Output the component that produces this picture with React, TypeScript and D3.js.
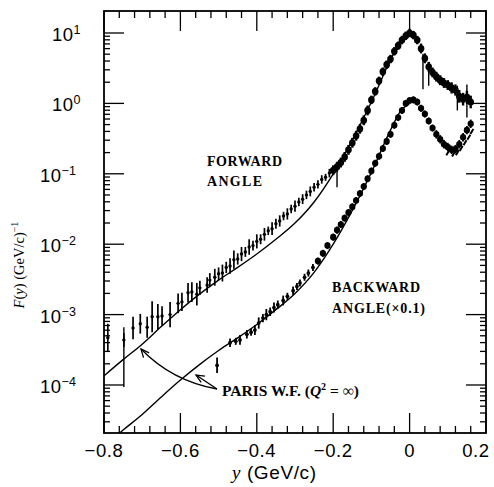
import * as d3 from "d3";

// Paris wave function prediction, log10 F(y) for the forward angle
// (the backward curve is the same one scaled by 0.1)
const parisY = [-0.8, -0.75, -0.7, -0.65, -0.6, -0.55, -0.5, -0.45, -0.4, -0.35, -0.3, -0.25, -0.2, -0.15, -0.1, -0.05, -0.025, 0];
const parisLogF = [-3.87, -3.64, -3.42, -3.17, -2.93, -2.71, -2.51, -2.33, -2.14, -1.93, -1.7, -1.4, -1.0, -0.52, 0.02, 0.62, 0.88, 1.0];

// forward angle data: y, log10 F, error (log units)
const fwdY = [
  -0.79, -0.748, -0.724, -0.705, -0.687, -0.674, -0.659, -0.648, -0.627, -0.606, -0.596, -0.58, -0.57, -0.557, -0.549, -0.53, -0.523,
  -0.51, -0.5, -0.49, -0.48, -0.47, -0.46, -0.45, -0.44, -0.43, -0.42, -0.41, -0.4, -0.39, -0.38, -0.37, -0.36, -0.35, -0.34, -0.33,
  -0.32, -0.31, -0.3, -0.29, -0.28, -0.27, -0.26, -0.25, -0.24, -0.23, -0.22, -0.21,
  -0.2, -0.19, -0.18, -0.17, -0.16, -0.15, -0.14, -0.13, -0.12, -0.11, -0.1, -0.09, -0.08, -0.07, -0.06, -0.05, -0.04, -0.03, -0.02,
  -0.01, 0, 0.01, 0.02, 0.03, 0.04, 0.05, 0.06, 0.07, 0.08, 0.09, 0.1, 0.11, 0.12, 0.13, 0.14, 0.15, 0.16,
];
const fwdLogF = [
  -3.33, -3.36, -3.19, -3.13, -3.18, -3.03, -3.03, -3.02, -3.0, -2.84, -2.82, -2.69, -2.68, -2.71, -2.62, -2.58, -2.51,
  -2.47, -2.42, -2.41, -2.33, -2.31, -2.22, -2.21, -2.14, -2.11, -2.04, -2.02, -1.96, -1.93, -1.86, -1.81, -1.78, -1.71, -1.67, -1.6,
  -1.57, -1.5, -1.46, -1.4, -1.36, -1.3, -1.25, -1.19, -1.15, -1.08, -1.05, -0.99,
  -0.95, -0.9, -0.84, -0.76, -0.66, -0.56, -0.46, -0.36, -0.24, -0.1, 0.05, 0.17, 0.32, 0.45, 0.55, 0.63, 0.74, 0.82, 0.9,
  0.96, 1.0, 0.97, 0.9, 0.78, 0.64, 0.52, 0.44, 0.38, 0.33, 0.29, 0.26, 0.22, 0.19, 0.1, 0.06, 0.09, 0.02,
];
const fwdErr = [
  0.2, 0.1, 0.16, 0.14, 0.15, 0.22, 0.18, 0.14, 0.18, 0.14, 0.13, 0.14, 0.14, 0.16, 0.1, 0.11, 0.1,
  0.12, 0.09, 0.12, 0.08, 0.11, 0.13, 0.08, 0.1, 0.07, 0.11, 0.07, 0.1, 0.07, 0.09, 0.06, 0.09, 0.07, 0.08, 0.06,
  0.08, 0.06, 0.08, 0.06, 0.07, 0.06, 0.07, 0.06, 0.06, 0.06, 0.05, 0.06,
  0.07, 0.07, 0.07, 0.07, 0.07, 0.07, 0.07, 0.07, 0.07, 0.07, 0.06, 0.06, 0.06, 0.06, 0.06, 0.06, 0.06, 0.06, 0.06,
  0.06, 0.06, 0.06, 0.06, 0.07, 0.07, 0.07, 0.07, 0.07, 0.07, 0.07, 0.07, 0.08, 0.08, 0.09, 0.09, 0.09, 0.09,
];
// a few long asymmetric bars (y, low, high in log10 F)
const fwdLongY = [-0.748, -0.19, 0.035, 0.05, 0.125, 0.15];
const fwdLongLo = [-4.03, -1.19, 0.2, 0.25, -0.1, -0.2];
const fwdLongHi = [-3.18, -0.85, 0.7, 0.55, 0.25, 0.27];

// backward angle data (x0.1)
const bwdY = [
  -0.504, -0.47, -0.455, -0.444, -0.426, -0.415, -0.405, -0.395, -0.384, -0.375, -0.365, -0.355, -0.345, -0.331, -0.32, -0.305,
  -0.295, -0.287, -0.275, -0.265, -0.253, -0.24, -0.227, -0.215, -0.2, -0.19, -0.18, -0.17, -0.16, -0.15, -0.14, -0.13, -0.12,
  -0.11, -0.1, -0.09, -0.08, -0.07, -0.06, -0.05, -0.04, -0.03, -0.02, -0.01, 0, 0.01, 0.02, 0.03, 0.04, 0.05, 0.06, 0.07, 0.08,
  0.09, 0.1, 0.11, 0.12, 0.13, 0.14, 0.15, 0.16,
];
const bwdLogF = [
  -3.72, -3.4, -3.38, -3.36, -3.28, -3.25, -3.22, -3.12, -3.05, -3.0, -2.96, -2.9, -2.86, -2.8, -2.74, -2.66,
  -2.6, -2.55, -2.47, -2.41, -2.33, -2.24, -2.13, -2.02, -1.9, -1.8, -1.72, -1.63, -1.55, -1.47, -1.38, -1.28, -1.18,
  -1.07, -0.96, -0.85, -0.75, -0.64, -0.54, -0.44, -0.31, -0.2, -0.1, 0.0, 0.04, 0.05, 0.02, -0.07, -0.15, -0.25, -0.35, -0.44, -0.51,
  -0.58, -0.62, -0.66, -0.65, -0.58, -0.48, -0.38, -0.29,
];
const bwdErr = [
  0.11, 0.06, 0.05, 0.07, 0.06, 0.05, 0.07, 0.08, 0.06, 0.08, 0.06, 0.07, 0.06, 0.07, 0.05, 0.06,
  0.05, 0.05, 0.05, 0.05, 0.05, 0.05, 0.05, 0.05, 0.05, 0.05, 0.05, 0.05, 0.05, 0.05, 0.05, 0.05, 0.05,
  0.05, 0.05, 0.05, 0.05, 0.05, 0.05, 0.05, 0.05, 0.05, 0.05, 0.05, 0.05, 0.05, 0.05, 0.05, 0.05, 0.05, 0.05, 0.06, 0.06,
  0.06, 0.06, 0.06, 0.06, 0.06, 0.06, 0.06, 0.06,
];
// second backward set near the end
const bwd2Y = [0.1, 0.115, 0.125, 0.135, 0.145, 0.155, 0.163];
const bwd2LogF = [-0.7, -0.72, -0.7, -0.64, -0.56, -0.48, -0.4];

const xTicks = [-0.8, -0.6, -0.4, -0.2, 0, 0.2];
const yExps = [1, 0, -1, -2, -3, -4];

const X0 = 104, X1 = 486, Y0 = 11, Y1 = 433;

export default function App() {
  const x = d3.scaleLinear().domain([-0.8, 0.2]).range([X0, X1]);
  const y = d3.scaleLog().domain([Math.pow(10, -4.682), Math.pow(10, 1.3125)]).range([Y1, Y0]);
  const yl = (v: number) => y(Math.pow(10, v));

  const line = d3
    .line<number>()
    .x((_, i) => x(parisY[i]))
    .curve(d3.curveMonotoneX);
  const fwdPath = line.y((v) => yl(v))(parisLogF) || "";
  const bwdPath = line.y((v) => yl(v - 1))(parisLogF) || "";

  const minorX = d3.range(-0.76, 0.2, 0.04).filter((v) => Math.abs(v / 0.2 - Math.round(v / 0.2)) > 0.01);
  const minorY: number[] = [];
  for (let e = -5; e <= 1; e++) for (let m = 2; m <= 9; m++) {
    const v = m * Math.pow(10, e);
    const p = y(v);
    if (p > Y0 + 1 && p < Y1 - 1) minorY.push(v);
  }

  const arrowHead = (tx: number, ty: number, fx: number, fy: number) => {
    const a = Math.atan2(fy - ty, fx - tx);
    const L = 9, s = 0.42;
    return `M${tx + L * Math.cos(a - s)},${ty + L * Math.sin(a - s)}L${tx},${ty}L${tx + L * Math.cos(a + s)},${ty + L * Math.sin(a + s)}`;
  };

  const serif = "'Liberation Serif', 'Times New Roman', serif";
  const sans = "'Liberation Sans', Arial, sans-serif";
  const dense = (v: number, from: number) => v > from;

  return (
    <svg width={494} height={487} style={{ position: "absolute", left: 0, top: 0, background: "#fff" }}>
      <defs>
        <clipPath id="plot">
          <rect x={X0} y={Y0} width={X1 - X0} height={Y1 - Y0} />
        </clipPath>
      </defs>

      <g clipPath="url(#plot)" stroke="#000" fill="none">
        <path d={fwdPath} strokeWidth={1.4} />
        <path d={bwdPath} strokeWidth={1.4} />

        {fwdY.map((v, i) => (
          <g key={"f" + i}>
            <line x1={x(v)} x2={x(v)} y1={yl(fwdLogF[i] - fwdErr[i])} y2={yl(fwdLogF[i] + fwdErr[i])} strokeWidth={dense(v, -0.205) ? 2.4 : 1.7} />
            <ellipse cx={x(v)} cy={yl(fwdLogF[i])} rx={dense(v, -0.205) ? 3.3 : 1.7} ry={dense(v, -0.205) ? 3.6 : 1.7} fill="#000" stroke="none" />
          </g>
        ))}
        {fwdLongY.map((v, i) => (
          <line key={"fl" + i} x1={x(v)} x2={x(v)} y1={yl(fwdLongLo[i])} y2={yl(fwdLongHi[i])} strokeWidth={1.4} />
        ))}

        {bwdY.map((v, i) => (
          <g key={"b" + i}>
            <line x1={x(v)} x2={x(v)} y1={yl(bwdLogF[i] - bwdErr[i])} y2={yl(bwdLogF[i] + bwdErr[i])} strokeWidth={1.8} />
            <ellipse cx={x(v)} cy={yl(bwdLogF[i])} rx={dense(v, -0.25) ? 3.1 : 1.9} ry={dense(v, -0.25) ? 3.3 : 1.9} fill="#000" stroke="none" />
          </g>
        ))}
        {bwd2Y.map((v, i) => (
          <line key={"b2" + i} x1={x(v) - 1.5} x2={x(v) + 1.5} y1={yl(bwd2LogF[i]) + 2.5} y2={yl(bwd2LogF[i]) - 2.5} strokeWidth={2} />
        ))}
      </g>

      {/* frame and ticks */}
      <rect x={X0} y={Y0} width={X1 - X0} height={Y1 - Y0} fill="none" stroke="#000" strokeWidth={1.8} />
      <g stroke="#000" strokeWidth={1.3}>
        {xTicks.map((t) => (
          <g key={"xt" + t}>
            <line x1={x(t)} x2={x(t)} y1={Y1} y2={Y1 - 20} />
            <line x1={x(t)} x2={x(t)} y1={Y0} y2={Y0 + 20} />
          </g>
        ))}
        {minorX.map((t, i) => (
          <g key={"xm" + i}>
            <line x1={x(t)} x2={x(t)} y1={Y1} y2={Y1 - 7} />
            <line x1={x(t)} x2={x(t)} y1={Y0} y2={Y0 + 7} />
          </g>
        ))}
        {yExps.map((e) => (
          <g key={"yt" + e}>
            <line x1={X0} x2={X0 + 20} y1={y(Math.pow(10, e))} y2={y(Math.pow(10, e))} />
            <line x1={X1} x2={X1 - 20} y1={y(Math.pow(10, e))} y2={y(Math.pow(10, e))} />
          </g>
        ))}
        {minorY.map((v, i) => (
          <g key={"ym" + i}>
            <line x1={X0} x2={X0 + 6} y1={y(v)} y2={y(v)} />
            <line x1={X1} x2={X1 - 6} y1={y(v)} y2={y(v)} />
          </g>
        ))}
      </g>

      {/* tick labels */}
      <g fontFamily={sans} fontSize={18.5} fill="#000">
        {xTicks.map((t) => (
          <text key={"xl" + t} x={t === 0.2 ? x(t) - 10 : x(t)} y={457} textAnchor="middle" letterSpacing={0.6}>
            {t === 0 ? "0" : (t < 0 ? "\u2212" : "") + Math.abs(t).toFixed(1)}
          </text>
        ))}
        {yExps.map((e) => (
          <text key={"yl" + e} x={e >= 0 ? 52 : 40} y={y(Math.pow(10, e)) + 8} letterSpacing={0.4}>
            10
            <tspan dy={-7} fontSize={12.5}>{e < 0 ? "\u2212" + Math.abs(e) : String(e)}</tspan>
          </text>
        ))}
      </g>

      {/* axis titles */}
      <text x={232} y={479} fontSize={19} fontFamily={sans} letterSpacing={0.6}>
        <tspan fontFamily={serif} fontStyle="italic">y</tspan>
        {"  (GeV/c)"}
      </text>
      <text transform="translate(24,265) rotate(-90)" textAnchor="middle" fontSize={14.5} fontFamily={serif}>
        <tspan fontStyle="italic">F</tspan>(<tspan fontStyle="italic">y</tspan>) (GeV/c)
        <tspan dy={-6} fontSize={10}>{"\u22121"}</tspan>
      </text>

      {/* annotations */}
      <g fontFamily={serif} fontSize={14} fontWeight="bold" fill="#000">
        <text x={207} y={166} textLength={75}>FORWARD</text>
        <text x={207} y={186} textLength={55}>ANGLE</text>
        <text x={332} y={292} textLength={88}>BACKWARD</text>
        <text x={332} y={313} textLength={93}>ANGLE(×0.1)</text>
        <text x={222} y={396} fontSize={15.5}>
          PARIS W.F. (<tspan fontStyle="italic">Q</tspan>
          <tspan dy={-6} fontSize={10}>2</tspan>
          <tspan dy={6}> = ∞)</tspan>
        </text>
      </g>
      <g stroke="#000" fill="none" strokeWidth={1.3}>
        <path d="M217,389 Q172,381 141,349" />
        <path d={arrowHead(141, 349, 152, 362)} />
        <path d="M217,389 Q205,381 196,375" />
        <path d={arrowHead(196, 375, 206, 381)} />
      </g>
    </svg>
  );
}
